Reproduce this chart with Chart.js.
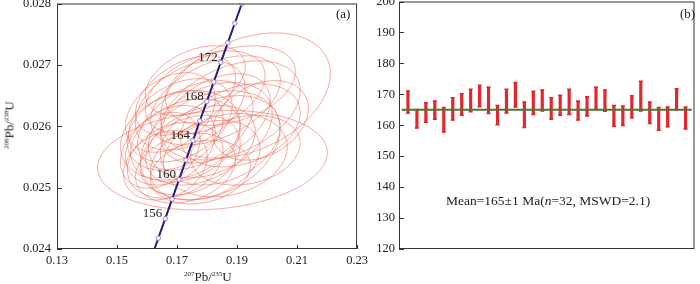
<!DOCTYPE html>
<html>
<head>
<meta charset="utf-8">
<script src="https://cdn.jsdelivr.net/npm/chart.js@4.4.1/dist/chart.umd.min.js"></script>
<style>
  body { margin: 0; background: #fff; }
  #wrap { position: relative; width: 700px; height: 284px; overflow: hidden; font-family: 'Liberation Serif', 'Times New Roman', serif; color: #222; }
  canvas { position: absolute; }
  .lbl { position: absolute; font-size: 13px; white-space: nowrap; line-height: 1; }
  .lbl sup { font-size: 7px; vertical-align: 5px; }
</style>
</head>
<body>
<div id="wrap">
  <canvas id="concordia" width="372" height="294" style="left:0;top:-10px;width:372px;height:294px"></canvas>
  <canvas id="meanAge" width="344" height="294" style="left:356px;top:-10px;width:344px;height:294px"></canvas>
  <div class="lbl" style="left:9px;top:125px;transform:translate(-50%,-50%) rotate(-90deg);"><sup>206</sup>Pb/<sup>238</sup>U</div>
  <div class="lbl" style="left:184px;top:270px;"><sup>207</sup>Pb/<sup>235</sup>U</div>
  <div class="lbl" style="left:336px;top:7px;">(a)</div>
  <div class="lbl" style="left:680px;top:7px;">(b)</div>
  <div class="lbl" style="left:446px;top:194px;font-size:13.5px;">Mean=165±1 Ma(<i>n</i>=32, MSWD=2.1)</div>
</div>
<script>
// ---- panel (a): concordia ----
// concordia reference points (age in Ma, 207Pb/235U, 206Pb/238U)
const concAge = [152, 154, 156, 158, 160, 162, 164, 166, 168, 170, 172, 174, 176, 178, 180];
const concX = [0.16148, 0.16377, 0.16607, 0.16836, 0.17067, 0.17297, 0.17529, 0.17760, 0.17993, 0.18225, 0.18458, 0.18692, 0.18926, 0.19160, 0.19396];
const concY = [0.023859, 0.024177, 0.024495, 0.024813, 0.025131, 0.025449, 0.025767, 0.026085, 0.026404, 0.026722, 0.027041, 0.027359, 0.027678, 0.027997, 0.028316];
const labelAges = [156, 160, 164, 168, 172];

// error ellipses: centre, half extents and error correlation
const ellX = [0.1818, 0.1928, 0.1794, 0.1828, 0.1744, 0.1878, 0.1711, 0.1761, 0.1694, 0.1811, 0.1911, 0.1728, 0.1678, 0.1778, 0.1844, 0.1744,
              0.1694, 0.1794, 0.1861, 0.1728, 0.1661, 0.1778, 0.1828, 0.1678, 0.1878, 0.1978, 0.1761, 0.1711, 0.1928, 0.1644, 0.1811, 0.1728];
const ellY = [0.025447, 0.026501, 0.026550, 0.026420, 0.026339, 0.026258, 0.026096, 0.026015, 0.025934, 0.025934, 0.026015, 0.025771, 0.025690, 0.025690, 0.025771, 0.025528,
              0.025447, 0.025447, 0.025528, 0.025318, 0.025366, 0.025253, 0.026128, 0.026225, 0.026663, 0.026096, 0.026744, 0.025852, 0.025609, 0.025609, 0.025690, 0.026501];
const ellSx = [0.0383, 0.0283, 0.0200, 0.0217, 0.0183, 0.0233, 0.0173, 0.0193, 0.0160, 0.0207, 0.0200, 0.0183, 0.0150, 0.0183, 0.0200, 0.0167,
               0.0160, 0.0183, 0.0207, 0.0167, 0.0140, 0.0167, 0.0183, 0.0150, 0.0217, 0.0160, 0.0167, 0.0200, 0.0183, 0.0133, 0.0233, 0.0167];
const ellSy = [0.00081, 0.00102, 0.00068, 0.00073, 0.00073, 0.00081, 0.00068, 0.00073, 0.00065, 0.00078, 0.00068, 0.00068, 0.00065, 0.00065, 0.00073, 0.00065,
               0.00062, 0.00065, 0.00068, 0.00057, 0.00057, 0.00052, 0.00073, 0.00065, 0.00065, 0.00065, 0.00057, 0.00073, 0.00057, 0.00062, 0.00089, 0.00065];
const ellRho = [0.15, 0.35, 0.4, 0.45, 0.4, 0.4, 0.35, 0.4, 0.3, 0.35, 0.3, 0.3, 0.3, 0.35, 0.3, 0.3,
                0.25, 0.3, 0.2, 0.25, 0.25, 0.2, 0.4, 0.35, 0.35, 0.3, 0.4, 0.25, 0.2, 0.3, 0.3, 0.45];

// ---- panel (b): 206Pb/238U ages with 1 sigma bars ----
const ageLow = [164.0, 159.1, 161.0, 161.9, 157.8, 161.7, 163.2, 164.4, 166.0, 163.8, 160.2, 164.0, 165.9, 159.3, 163.5, 164.6,
                161.9, 163.2, 163.5, 161.7, 163.0, 165.1, 164.5, 159.7, 159.9, 162.4, 164.6, 160.6, 158.4, 159.5, 164.9, 158.8];
const ageHigh = [171.1, 165.1, 167.3, 167.8, 165.7, 168.9, 170.2, 171.6, 172.9, 172.3, 166.4, 171.6, 173.8, 167.5, 171.0, 171.4,
                 168.9, 169.7, 171.6, 167.8, 169.2, 172.3, 171.4, 166.4, 166.2, 169.5, 174.2, 167.5, 165.7, 165.9, 171.8, 165.9];
const meanAge = 165;

const tickFont = { family: "'Liberation Serif', 'Times New Roman', serif", size: 12.5 };
const ink = '#222';

// frame + inward tick marks
const framePlugin = {
  id: 'frame',
  afterDraw(chart) {
    const { ctx, chartArea: a, scales } = chart;
    ctx.save();
    ctx.strokeStyle = '#333';
    ctx.lineWidth = 1;
    ctx.strokeRect(a.left + 0.5, a.top + 0.5, a.width - 1, a.height - 1);
    ctx.beginPath();
    const y = scales.y;
    y.ticks.forEach(t => {
      const py = Math.round(y.getPixelForValue(t.value)) + 0.5;
      ctx.moveTo(a.left, py);
      ctx.lineTo(a.left + 5, py);
    });
    const x = scales.x;
    if (x.options.display) {
      x.ticks.forEach(t => {
        const px = Math.round(x.getPixelForValue(t.value)) + 0.5;
        ctx.moveTo(px, a.bottom);
        ctx.lineTo(px, a.bottom - 4);
      });
    }
    ctx.stroke();
    ctx.restore();
  }
};

const ellipsePlugin = {
  id: 'ellipses',
  beforeDatasetsDraw(chart) {
    const { ctx, chartArea: a, scales: { x, y } } = chart;
    ctx.save();
    ctx.beginPath();
    ctx.rect(a.left, a.top, a.width, a.height);
    ctx.clip();
    ctx.strokeStyle = 'rgba(238, 100, 80, 0.6)';
    ctx.lineWidth = 0.9;
    ellX.forEach((cx, i) => {
      const px = x.getPixelForValue(cx);
      const py = y.getPixelForValue(ellY[i]);
      const ax = Math.abs(x.getPixelForValue(cx + ellSx[i]) - px);
      const ay = Math.abs(y.getPixelForValue(ellY[i] + ellSy[i]) - py);
      const A = ax * ax, B = ay * ay, C = -ellRho[i] * ax * ay; // canvas y points down
      const mid = (A + B) / 2, d = Math.sqrt(((A - B) / 2) ** 2 + C * C);
      const theta = 0.5 * Math.atan2(2 * C, A - B);
      ctx.beginPath();
      ctx.ellipse(px, py, Math.sqrt(mid + d), Math.sqrt(mid - d), theta, 0, 2 * Math.PI);
      ctx.stroke();
    });
    ctx.restore();
  }
};

const ageLabelPlugin = {
  id: 'ageLabels',
  afterDatasetsDraw(chart) {
    const { ctx, scales: { x, y } } = chart;
    ctx.save();
    ctx.font = "13px 'Liberation Serif', serif";
    ctx.fillStyle = ink;
    ctx.textAlign = 'right';
    ctx.textBaseline = 'middle';
    labelAges.forEach(age => {
      const i = concAge.indexOf(age);
      ctx.fillText(String(age), x.getPixelForValue(concX[i]) - 3, y.getPixelForValue(concY[i]) - 5);
    });
    ctx.restore();
  }
};

new Chart(document.getElementById('concordia'), {
  type: 'scatter',
  data: {
    datasets: [{
      data: concAge.map((t, i) => ({ x: concX[i], y: concY[i] })),
      showLine: true,
      borderColor: '#27207a',
      borderWidth: 2,
      pointRadius: 2.2,
      pointBackgroundColor: '#fff',
      pointBorderColor: '#8d84d6',
      pointBorderWidth: 1
    }]
  },
  options: {
    responsive: false,
    animation: false,
    layout: { padding: 0 },
    plugins: { legend: { display: false }, tooltip: { enabled: false } },
    scales: {
      x: {
        type: 'linear', min: 0.13, max: 0.23,
        grid: { display: false, drawTicks: false },
        border: { display: false },
        ticks: { stepSize: 0.02, callback: v => v.toFixed(2), font: tickFont, color: ink, padding: 4, maxRotation: 0, autoSkip: false },
        afterFit(s) { s.height = 35; }
      },
      y: {
        min: 0.024, max: 0.028,
        grid: { display: false, drawTicks: false },
        border: { display: false },
        ticks: { stepSize: 0.001, callback: v => v.toFixed(3), font: tickFont, color: ink, padding: 6 },
        afterFit(s) { s.width = 57; }
      }
    }
  },
  plugins: [ellipsePlugin, framePlugin, ageLabelPlugin]
});

new Chart(document.getElementById('meanAge'), {
  type: 'bar',
  data: {
    datasets: [{
      type: 'line',
      data: [{ x: 0.3, y: meanAge }, { x: 32.7, y: meanAge }],
      borderColor: '#4f7436',
      borderWidth: 2,
      pointRadius: 0,
      order: 0
    }, {
      data: ageLow.map((lo, i) => ({ x: i + 1, y: [lo, ageHigh[i]] })),
      backgroundColor: '#e3262b',
      barThickness: 2.5,
      order: 1
    }, {
      type: 'scatter',
      data: ageLow.map((lo, i) => ({ x: i + 1, y: lo })).concat(ageHigh.map((hi, i) => ({ x: i + 1, y: hi }))),
      pointStyle: 'line',
      pointRadius: 2,
      borderColor: '#e3262b',
      borderWidth: 1.5,
      order: 1
    }]
  },
  options: {
    responsive: false,
    animation: false,
    layout: { padding: { top: 0, right: 1, bottom: 35, left: 0 } },
    plugins: { legend: { display: false }, tooltip: { enabled: false } },
    scales: {
      x: { type: 'linear', min: 0, max: 33, offset: false, display: false, grid: { display: false } },
      y: {
        min: 120, max: 200,
        grid: { display: false, drawTicks: false },
        border: { display: false },
        ticks: { stepSize: 10, font: tickFont, color: ink, padding: 4 },
        afterFit(s) { s.width = 43; }
      }
    }
  },
  plugins: [framePlugin]
});
</script>
</body>
</html>
